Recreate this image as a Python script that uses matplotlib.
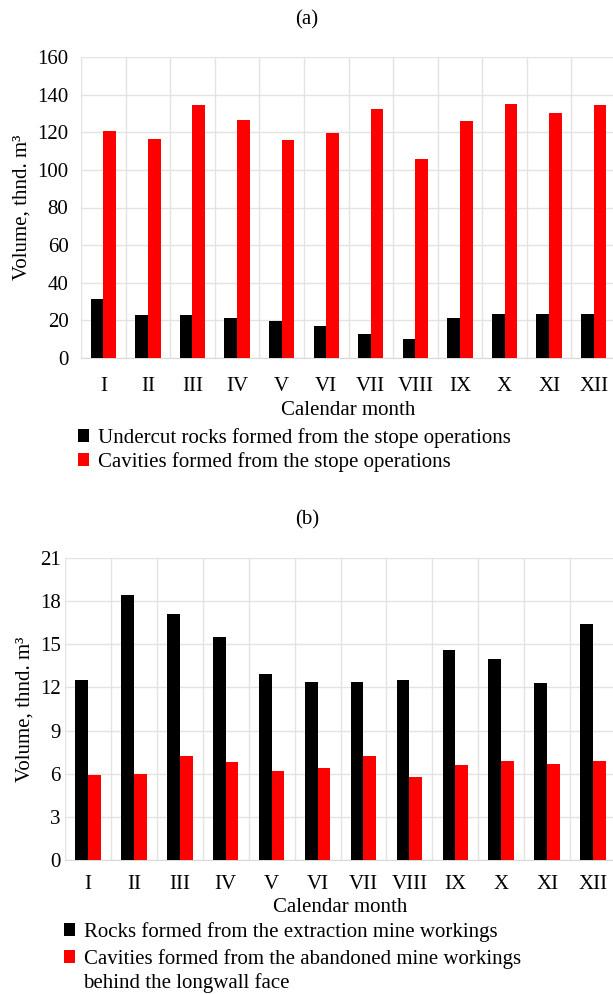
import matplotlib
matplotlib.use("Agg")
import matplotlib.pyplot as plt
import numpy as np

plt.rcParams['font.family'] = ['Liberation Serif', 'DejaVu Serif']

months = ["I", "II", "III", "IV", "V", "VI", "VII", "VIII", "IX", "X", "XI", "XII"]

# (a)
undercut_rocks = [31.5, 22.9, 22.7, 21.4, 19.7, 17.2, 12.8, 10.3, 21.3, 23.4, 23.4, 23.4]
cavities_stope = [120.5, 116.6, 134.3, 126.7, 116.0, 119.8, 132.4, 106.0, 126.2, 134.8, 130.2, 134.7]
# (b)
rocks_extraction = [12.5, 18.4, 17.1, 15.5, 12.9, 12.4, 12.4, 12.5, 14.6, 14.0, 12.3, 16.4]
cavities_abandoned = [5.9, 6.0, 7.2, 6.8, 6.2, 6.4, 7.2, 5.8, 6.6, 6.9, 6.7, 6.9]

labels_a = ["Undercut rocks formed from the stope operations",
            "Cavities formed from the stope operations"]
labels_b = ["Rocks formed from the extraction mine workings",
            "Cavities formed from the abandoned mine workings"]
label_b_cont = "behind the longwall face"

W, H = 613, 994
fig = plt.figure(figsize=(W / 100, H / 100), dpi=100)

FS = 15
GRID = '#e3e3e3'


def fx(px):
    return px / W


def fy(py):
    return 1 - py / H


def setup(ax, ymax, ystep, ypad, xpad):
    n = len(months)
    ax.set_xlim(-0.5, n - 0.5)
    ax.set_ylim(0, ymax)
    ax.set_yticks(np.arange(0, ymax + 0.001, ystep))
    ax.set_xticks(np.arange(n))
    ax.set_xticklabels(months)
    for b in np.arange(-0.5, n, 1.0):
        ax.axvline(b, color=GRID, lw=1.0, zorder=0)
    ax.yaxis.grid(True, color=GRID, lw=1.0, zorder=0)
    ax.set_axisbelow(True)
    for s in ax.spines.values():
        s.set_visible(False)
    ax.spines['bottom'].set_visible(True)
    ax.spines['bottom'].set_color('#d9d9d9')
    ax.tick_params(axis='both', length=0, labelsize=FS)
    ax.tick_params(axis='x', pad=xpad)
    ax.tick_params(axis='y', pad=ypad)


x = np.arange(len(months))

# ---- (a)
ax1 = fig.add_axes([fx(81), fy(358), fx(616 - 81), (358 - 57) / H])
w = 0.285
b1 = ax1.bar(x - w / 2, undercut_rocks, w, color='black', zorder=3)
b2 = ax1.bar(x + w / 2, cavities_stope, w, color='#ff0000', zorder=3)
setup(ax1, 160, 20, 9, 14)
ax1.set_ylabel("Volume, thnd. m³", fontsize=FS, labelpad=4)
ax1.set_xlabel("Calendar month", fontsize=FS, labelpad=3)
fig.text(fx(307), fy(20), "(a)", ha='center', va='center', fontsize=FS)
fig.legend([b1, b2], labels_a, loc='upper left', bbox_to_anchor=(fx(78), fy(428)),
           frameon=False, fontsize=FS, handlelength=0.55, handleheight=0.55,
           handletextpad=0.4, labelspacing=0.2, borderpad=0, borderaxespad=0)

# ---- (b)
ax2 = fig.add_axes([fx(65), fy(860), fx(616 - 65), (860 - 558) / H])
w2 = 0.277
c1 = ax2.bar(x - w2 / 2, rocks_extraction, w2, color='black', zorder=3)
c2 = ax2.bar(x + w2 / 2, cavities_abandoned, w2, color='#ff0000', zorder=3)
setup(ax2, 21, 3, 3, 11)
ax2.set_ylabel("Volume, thnd. m³", fontsize=FS, labelpad=4)
ax2.set_xlabel("Calendar month", fontsize=FS, labelpad=3)
fig.text(fx(307), fy(520), "(b)", ha='center', va='center', fontsize=FS)
fig.legend([c1, c2], labels_b, loc='upper left', bbox_to_anchor=(fx(64), fy(922)),
           frameon=False, fontsize=FS, handlelength=0.55, handleheight=0.55,
           handletextpad=0.4, labelspacing=0.35, borderpad=0, borderaxespad=0)
fig.text(fx(83), fy(983), label_b_cont, ha='left', va='center', fontsize=FS)

fig.savefig("out.png", dpi=100)
